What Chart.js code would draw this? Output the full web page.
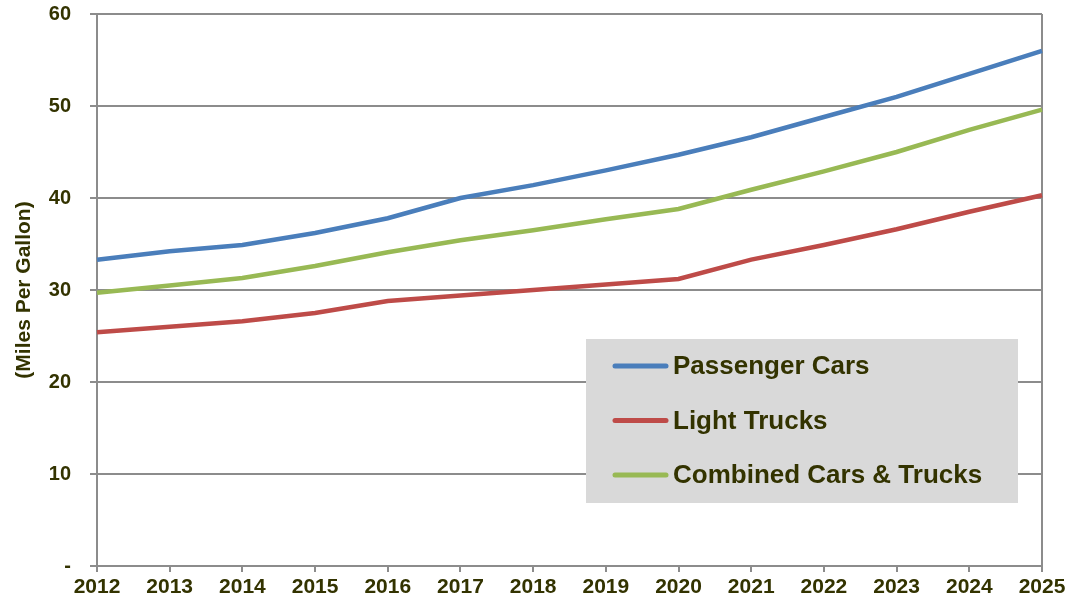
<!DOCTYPE html>
<html lang="en">
<head>
  <meta charset="UTF-8">
  <title>Fuel Economy Standards 2012-2025</title>
  <script src="https://cdn.jsdelivr.net/npm/chart.js"></script>
  <style>
    html, body { margin: 0; padding: 0; background: #fff; }
    #wrap { width: 1068px; height: 602px; }
  </style>
</head>
<body>
  <div id="wrap"><canvas id="mpgChart"></canvas></div>

  <script>
    // model years and mpg targets
    const years = ['2012','2013','2014','2015','2016','2017','2018','2019','2020','2021','2022','2023','2024','2025'];
    const passengerCars = [33.3, 34.2, 34.9, 36.2, 37.8, 40.0, 41.4, 43.0, 44.7, 46.6, 48.8, 51.0, 53.5, 56.0];
    const lightTrucks   = [25.4, 26.0, 26.6, 27.5, 28.8, 29.4, 30.0, 30.6, 31.2, 33.3, 34.9, 36.6, 38.5, 40.3];
    const combined      = [29.7, 30.5, 31.3, 32.6, 34.1, 35.4, 36.5, 37.7, 38.8, 40.9, 42.9, 45.0, 47.4, 49.6];
    const yTicks = [0, 10, 20, 30, 40, 50, 60];

    const textColor = '#333300';
    const gridColor = '#8c8c8c';
    const fontFamily = '"Liberation Sans", Arial, sans-serif';

    // legend box drawn inside the plot, lower right
    const boxLegend = {
      id: 'boxLegend',
      afterDraw(chart) {
        const ctx = chart.ctx;
        const area = chart.chartArea;
        const w = 432, h = 164;
        const x = area.right - 24 - w;
        const y = area.bottom - 63 - h;
        ctx.save();
        ctx.fillStyle = '#d9d9d9';
        ctx.fillRect(x, y, w, h);
        ctx.font = 'bold 26px ' + fontFamily;
        ctx.textBaseline = 'middle';
        chart.data.datasets.forEach((ds, i) => {
          const ry = y + 27 + i * 54.5;
          ctx.strokeStyle = ds.borderColor;
          ctx.lineWidth = 5;
          ctx.lineCap = 'round';
          ctx.beginPath();
          ctx.moveTo(x + 29, ry);
          ctx.lineTo(x + 80, ry);
          ctx.stroke();
          ctx.fillStyle = textColor;
          ctx.fillText(ds.label, x + 87, ry + 1);
        });
        ctx.restore();
      }
    };

    const ctx = document.getElementById('mpgChart').getContext('2d');
    new Chart(ctx, {
      type: 'line',
      data: {
        labels: years,
        datasets: [
          { label: 'Passenger Cars', data: passengerCars, borderColor: '#4a7ebb' },
          { label: 'Light Trucks', data: lightTrucks, borderColor: '#be4b48' },
          { label: 'Combined Cars & Trucks', data: combined, borderColor: '#98b954' }
        ]
      },
      options: {
        responsive: true,
        maintainAspectRatio: false,
        animation: false,
        layout: { padding: { top: 14, right: 26, left: 0, bottom: 0 } },
        elements: {
          line: { borderWidth: 4.5, tension: 0, borderCapStyle: 'butt' },
          point: { radius: 0, hoverRadius: 0 }
        },
        plugins: {
          legend: { display: false },
          tooltip: { enabled: false }
        },
        scales: {
          x: {
            offset: false,
            afterFit: (scale) => {
              scale.height = 36;
              scale.paddingLeft = 0;
              scale.paddingRight = 0;
            },
            border: { display: true, color: gridColor, width: 2 },
            grid: {
              drawOnChartArea: true,
              color: (c) => c.index === years.length - 1 ? gridColor : 'rgba(0,0,0,0)',
              tickColor: gridColor,
              lineWidth: 2,
              tickLength: 6
            },
            ticks: {
              color: textColor,
              font: { family: fontFamily, size: 21, weight: 'bold' },
              padding: 3,
              maxRotation: 0,
              autoSkip: false
            }
          },
          y: {
            min: 0,
            max: 60,
            afterFit: (scale) => {
              scale.width = 97;
              scale.paddingTop = 0;
              scale.paddingBottom = 0;
            },
            afterBuildTicks: (scale) => { scale.ticks = yTicks.map(v => ({ value: v })); },
            border: { display: true, color: gridColor, width: 2 },
            grid: { color: gridColor, lineWidth: 2, tickLength: 7 },
            ticks: {
              color: textColor,
              font: { family: fontFamily, size: 20, weight: 'bold' },
              padding: 19,
              callback: (v) => v === 0 ? '-' : v
            },
            title: {
              display: true,
              text: '(Miles Per Gallon)',
              color: textColor,
              font: { family: fontFamily, size: 21, weight: 'bold' },
              padding: { top: 12, bottom: 0 }
            }
          }
        }
      },
      plugins: [boxLegend]
    });
  </script>
</body>
</html>
